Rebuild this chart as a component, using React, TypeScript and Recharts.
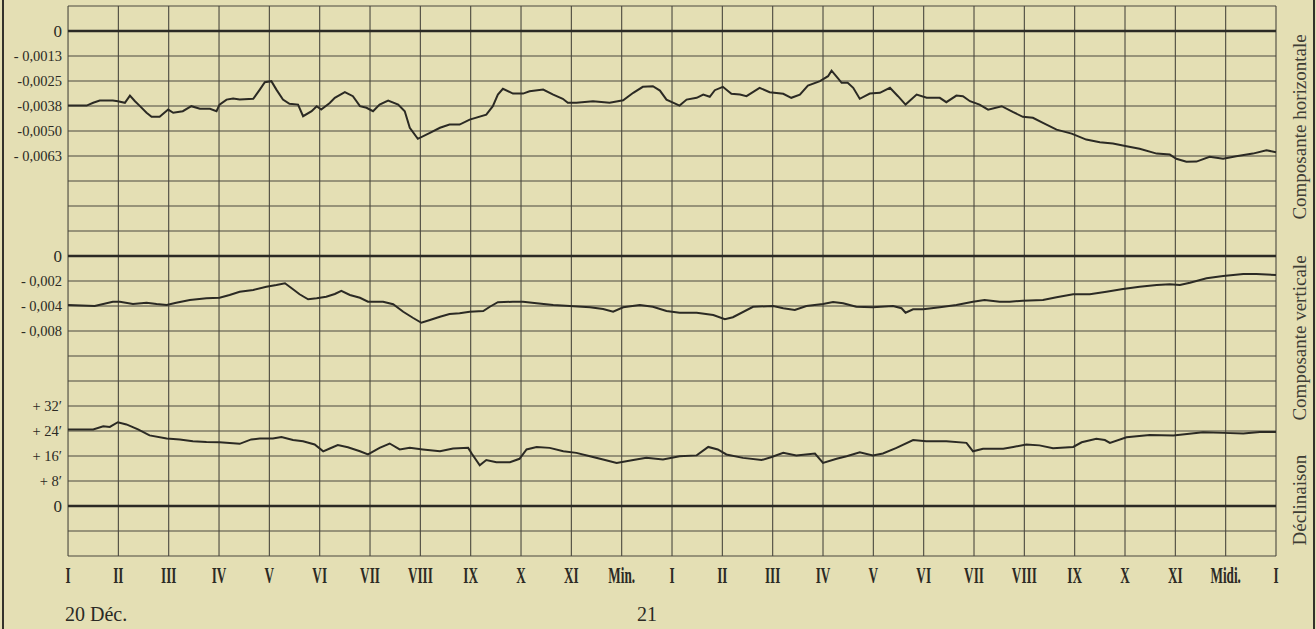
import React from 'react';
import { LineChart, Line, XAxis, YAxis, CartesianGrid, ReferenceLine } from 'recharts';

// ---- axis definitions ----
const HOURS = [0, 1, 2, 3, 4, 5, 6, 7, 8, 9, 10, 11, 12, 13, 14, 15, 16, 17, 18, 19, 20, 21, 22, 23, 24];
const HOUR_LABELS = ['I', 'II', 'III', 'IV', 'V', 'VI', 'VII', 'VIII', 'IX', 'X', 'XI', 'Min.', 'I', 'II', 'III', 'IV', 'V', 'VI', 'VII', 'VIII', 'IX', 'X', 'XI', 'Midi.', 'I'];

// horizontal component axis: one tick per row of the ruled paper (only six are labelled)
const H_TICKS = [
  0.00125, 0, -0.00125, -0.0025, -0.00375, -0.005, -0.00625, -0.0075, -0.00875, -0.01, -0.01125, -0.0125,
  -0.01375, -0.015, -0.01625, -0.0175, -0.01875, -0.02, -0.02125, -0.0225, -0.02375, -0.025, -0.02625,
];
const H_LABELLED = [0, -0.00125, -0.0025, -0.00375, -0.005, -0.00625];
const H_TICK_LABELS = ['0', '- 0,0013', '-0,0025', '-0,0038', '-0,0050', '- 0,0063'];
const H_DOMAIN = [-0.02625, 0.00125];

const V_TICKS = [0, -0.002, -0.004, -0.006];
const V_TICK_LABELS = ['0', '- 0,002', '- 0,004', '- 0,008'];
const V_DOMAIN = [-0.024, 0.02];

const D_TICKS = [32, 24, 16, 8, 0];
const D_TICK_LABELS = ['+ 32′', '+ 24′', '+ 16′', '+ 8′', '0'];
const D_DOMAIN = [-16, 160];

// ---- Composante horizontale ----
const H_HOURS = [
  0, 0.37, 0.5, 0.63, 0.89, 0.99, 1.13, 1.23, 1.33, 1.42,
  1.56, 1.66, 1.82, 1.99, 2.09, 2.28, 2.45, 2.62, 2.82, 2.95,
  3.01, 3.15, 3.28, 3.41, 3.68, 3.81, 3.91, 4.04, 4.14, 4.27,
  4.4, 4.57, 4.67, 4.84, 4.94, 5.03, 5.2, 5.3, 5.5, 5.66,
  5.8, 5.93, 6.06, 6.19, 6.36, 6.56, 6.69, 6.79, 6.95, 7.19,
  7.39, 7.58, 7.78, 7.98, 8.31, 8.44, 8.54, 8.64, 8.84, 9.04,
  9.17, 9.44, 9.64, 9.83, 9.93, 10.1, 10.43, 10.76, 11.03, 11.23,
  11.42, 11.62, 11.76, 11.89, 12.15, 12.29, 12.49, 12.62, 12.75, 12.85,
  13.01, 13.18, 13.35, 13.48, 13.74, 13.94, 14.21, 14.37, 14.54, 14.7,
  14.94, 15.1, 15.17, 15.29, 15.37, 15.49, 15.6, 15.73, 15.93, 16.13,
  16.33, 16.49, 16.64, 16.86, 17.06, 17.32, 17.45, 17.65, 17.78, 17.92,
  18.11, 18.28, 18.55, 18.78, 18.97, 19.17, 19.37, 19.64, 19.94, 20.23,
  20.5, 20.76, 21.03, 21.29, 21.63, 21.89, 22.02, 22.22, 22.42, 22.68,
  22.95, 23.21, 23.54, 23.81, 24,
];
const H_VALUES = [
  -0.00373, -0.00373, -0.00359, -0.00348, -0.00348, -0.00351, -0.00359, -0.00323, -0.00351, -0.00373,
  -0.00409, -0.00429, -0.00429, -0.00393, -0.00409, -0.00401, -0.00376, -0.00389, -0.00389, -0.00401,
  -0.00368, -0.00343, -0.00338, -0.00343, -0.00339, -0.00293, -0.00256, -0.00251, -0.00293, -0.00343,
  -0.00364, -0.00368, -0.00426, -0.00401, -0.00376, -0.00393, -0.0036, -0.00334, -0.00306, -0.00326,
  -0.00376, -0.00384, -0.00401, -0.00368, -0.00348, -0.00368, -0.00401, -0.00484, -0.00539, -0.00509,
  -0.00484, -0.00468, -0.00468, -0.00443, -0.00418, -0.00376, -0.00318, -0.00289, -0.00313, -0.00313,
  -0.00301, -0.00293, -0.00318, -0.00339, -0.00359, -0.00359, -0.00351, -0.00359, -0.00346, -0.00309,
  -0.00279, -0.00276, -0.00298, -0.00343, -0.00373, -0.00343, -0.00334, -0.00318, -0.00329, -0.00296,
  -0.00279, -0.00314, -0.00318, -0.00326, -0.00284, -0.00306, -0.00314, -0.00334, -0.00318, -0.00273,
  -0.00251, -0.00226, -0.00198, -0.00234, -0.00259, -0.00259, -0.00284, -0.00339, -0.00313, -0.00309,
  -0.00284, -0.00326, -0.00368, -0.00318, -0.00334, -0.00334, -0.00356, -0.00323, -0.00326, -0.00351,
  -0.00368, -0.00393, -0.00376, -0.00406, -0.00429, -0.00434, -0.00459, -0.00493, -0.00513, -0.00543,
  -0.00556, -0.00563, -0.00576, -0.00589, -0.00613, -0.00618, -0.00639, -0.00654, -0.00653, -0.00629,
  -0.00639, -0.00626, -0.00613, -0.00596, -0.00606,
];

// ---- Composante verticale ----
const V_HOURS = [
  0, 0.53, 0.89, 1.03, 1.29, 1.56, 1.76, 1.96, 2.15, 2.42,
  2.75, 3.01, 3.21, 3.41, 3.68, 3.94, 4.14, 4.31, 4.47, 4.6,
  4.77, 4.94, 5.13, 5.3, 5.43, 5.6, 5.8, 5.96, 6.26, 6.46,
  6.66, 6.85, 7.02, 7.19, 7.39, 7.58, 7.78, 7.98, 8.25, 8.38,
  8.54, 8.84, 9.04, 9.31, 9.64, 9.97, 10.37, 10.63, 10.83, 11.03,
  11.36, 11.62, 11.89, 12.15, 12.49, 12.82, 13.05, 13.21, 13.61, 14.01,
  14.21, 14.44, 14.67, 15.0, 15.2, 15.4, 15.66, 15.99, 16.39, 16.56,
  16.64, 16.79, 16.99, 17.32, 17.65, 17.98, 18.21, 18.51, 18.71, 18.97,
  19.37, 19.64, 19.97, 20.3, 20.63, 20.96, 21.29, 21.63, 21.89, 22.09,
  22.29, 22.62, 22.95, 23.35, 23.61, 24,
];
const V_VALUES = [
  -0.00392, -0.004, -0.00366, -0.00366, -0.00384, -0.00374, -0.00384, -0.00392, -0.00374, -0.00352,
  -0.00338, -0.00334, -0.00312, -0.00286, -0.00272, -0.00246, -0.00232, -0.00218, -0.00266, -0.00306,
  -0.00346, -0.00338, -0.00326, -0.00304, -0.00278, -0.00312, -0.00334, -0.00366, -0.00366, -0.00386,
  -0.00446, -0.00494, -0.00534, -0.00512, -0.00486, -0.00464, -0.00458, -0.00446, -0.0044, -0.00406,
  -0.0037, -0.00366, -0.00366, -0.00378, -0.00392, -0.004, -0.0041, -0.00424, -0.00446, -0.0041,
  -0.00392, -0.00406, -0.0044, -0.00454, -0.00454, -0.00472, -0.00506, -0.0049, -0.00406, -0.004,
  -0.00418, -0.00432, -0.004, -0.00384, -0.00368, -0.00378, -0.00406, -0.0041, -0.004, -0.00418,
  -0.00454, -0.00426, -0.00426, -0.0041, -0.00392, -0.00366, -0.00352, -0.00366, -0.00366, -0.00358,
  -0.00352, -0.0033, -0.00306, -0.00306, -0.00286, -0.00264, -0.00246, -0.00232, -0.00226, -0.00232,
  -0.00214, -0.00178, -0.0016, -0.00144, -0.00144, -0.00152,
];

// ---- Déclinaison (minutes of arc) ----
const D_HOURS = [
  0, 0.5, 0.7, 0.83, 0.99, 1.16, 1.39, 1.62, 1.96, 2.22,
  2.48, 2.75, 3.01, 3.41, 3.64, 3.81, 4.07, 4.24, 4.47, 4.67,
  4.9, 5.07, 5.2, 5.36, 5.56, 5.8, 5.96, 6.19, 6.39, 6.59,
  6.79, 7.05, 7.39, 7.65, 7.95, 8.02, 8.18, 8.31, 8.51, 8.78,
  8.97, 9.11, 9.31, 9.57, 9.84, 10.1, 10.37, 10.63, 10.9, 11.23,
  11.49, 11.82, 12.15, 12.49, 12.72, 12.91, 13.08, 13.41, 13.78, 13.98,
  14.21, 14.47, 14.84, 15.0, 15.27, 15.47, 15.73, 15.99, 16.19, 16.46,
  16.79, 17.05, 17.45, 17.85, 17.98, 18.18, 18.58, 18.78, 19.04, 19.3,
  19.57, 19.97, 20.14, 20.43, 20.6, 20.7, 21.03, 21.49, 21.96, 22.55,
  22.95, 23.35, 23.68, 24,
];
const D_VALUES = [
  24.5, 24.5, 25.5, 25.3, 26.8, 26.1, 24.5, 22.6, 21.6, 21.3,
  20.7, 20.5, 20.4, 19.9, 21.3, 21.6, 21.6, 22.1, 21.1, 20.7,
  19.7, 17.5, 18.4, 19.5, 18.8, 17.5, 16.5, 18.6, 20.0, 18.1,
  18.6, 18.1, 17.5, 18.4, 18.6, 16.8, 13.0, 14.7, 14.0, 14.0,
  15.1, 18.1, 18.9, 18.6, 17.5, 17.0, 15.9, 14.9, 13.8, 14.7,
  15.4, 14.9, 15.9, 16.2, 18.9, 18.1, 16.5, 15.4, 14.7, 15.7,
  17.0, 16.2, 16.8, 13.8, 15.1, 15.9, 17.2, 16.2, 16.8, 18.6,
  21.1, 20.7, 20.7, 20.2, 17.5, 18.3, 18.3, 18.9, 19.7, 19.4,
  18.5, 18.9, 20.4, 21.5, 21.1, 20.2, 22.0, 22.7, 22.6, 23.6,
  23.4, 23.2, 23.7, 23.7,
];

const zip = (xs: number[], ys: number[]) =>
  xs.slice(0, Math.min(xs.length, ys.length)).map((t, i) => ({ t, v: ys[i] }));

const H_DATA = zip(H_HOURS, H_VALUES);
const V_DATA = zip(V_HOURS, V_VALUES);
const D_DATA = zip(D_HOURS, D_VALUES);

const PAPER = '#e4dfb4';
const INK = '#2b2a24';
const GRID = '#4a483e';
const SERIF = '"Liberation Serif", "DejaVu Serif", serif';
const THIN = 0.01;

const makeYTick = (ticks: number[], labels: string[]) => (props: any) => {
  const { x, y, payload } = props;
  const i = ticks.findIndex((t) => Math.abs(t - payload.value) < 1e-9);
  if (i < 0) return <g />;
  const label = labels[i];
  const zero = label === '0';
  return (
    <text
      x={x}
      y={y}
      dy="0.36em"
      textAnchor="end"
      fontFamily={SERIF}
      fontSize={zero ? 17 : 14.5}
      fill={INK}
    >
      {label}
    </text>
  );
};

const HTick = makeYTick(H_LABELLED, H_TICK_LABELS);
const VTick = makeYTick(V_TICKS, V_TICK_LABELS);
const DTick = makeYTick(D_TICKS, D_TICK_LABELS);

const XTick = (props: any) => {
  const { x, y, payload } = props;
  const label = HOUR_LABELS[Math.round(payload.value)] ?? '';
  return (
    <text
      transform={`translate(${x},${y}) scale(0.55,1)`}
      x={0}
      y={19}
      textAnchor="middle"
      fontFamily={SERIF}
      fontWeight="bold"
      fontSize={24}
      fill={INK}
    >
      {label}
    </text>
  );
};

const sideLabel = (text: string, cx: number, cy: number) => (
  <div
    style={{
      position: 'absolute',
      left: cx,
      top: cy,
      transform: 'translate(-50%, -50%) rotate(-90deg)',
      whiteSpace: 'nowrap',
      fontFamily: SERIF,
      fontSize: 19,
      lineHeight: '20px',
      color: '#3e3d35',
    }}
  >
    {text}
  </div>
);

export default function App() {
  return (
    <div
      style={{
        position: 'absolute',
        left: 0,
        top: 0,
        width: 1316,
        height: 629,
        background: PAPER,
        overflow: 'hidden',
      }}
    >
      <LineChart width={1316} height={629} margin={{ top: 6, right: 40, bottom: 43, left: 68 }}>
        <XAxis
          dataKey="t"
          type="number"
          domain={[0, 24]}
          ticks={HOURS}
          interval={0}
          allowDecimals={false}
          axisLine={false}
          tickLine={false}
          height={30}
          tick={<XTick />}
        />
        {/* default y axis: Composante horizontale, also rules the paper rows */}
        <YAxis
          type="number"
          domain={H_DOMAIN}
          ticks={H_TICKS}
          interval={0}
          width={THIN}
          axisLine={false}
          tickLine={false}
          tickSize={4}
          tickMargin={2}
          tick={<HTick />}
        />
        <YAxis
          yAxisId="v"
          type="number"
          domain={V_DOMAIN}
          ticks={V_TICKS}
          interval={0}
          width={THIN}
          axisLine={false}
          tickLine={false}
          tickSize={4}
          tickMargin={2}
          tick={<VTick />}
        />
        <YAxis
          yAxisId="d"
          type="number"
          domain={D_DOMAIN}
          ticks={D_TICKS}
          interval={0}
          width={THIN}
          axisLine={false}
          tickLine={false}
          tickSize={4}
          tickMargin={2}
          tick={<DTick />}
        />
        <CartesianGrid stroke={GRID} strokeWidth={1.1} />
        <ReferenceLine y={0} stroke={INK} strokeWidth={2.4} />
        <ReferenceLine yAxisId="v" y={0} stroke={INK} strokeWidth={2.4} />
        <ReferenceLine yAxisId="d" y={0} stroke={INK} strokeWidth={2.4} />
        <Line
          data={H_DATA}
          dataKey="v"
          type="linear"
          stroke={INK}
          strokeWidth={2}
          dot={false}
          isAnimationActive={false}
        />
        <Line
          data={V_DATA}
          dataKey="v"
          yAxisId="v"
          type="linear"
          stroke={INK}
          strokeWidth={2}
          dot={false}
          isAnimationActive={false}
        />
        <Line
          data={D_DATA}
          dataKey="v"
          yAxisId="d"
          type="linear"
          stroke={INK}
          strokeWidth={2}
          dot={false}
          isAnimationActive={false}
        />
      </LineChart>

      <div style={{ position: 'absolute', left: 2, top: 0, width: 2, height: 629, background: '#33322b' }} />
      <div style={{ position: 'absolute', left: 1313, top: 0, width: 2, height: 629, background: '#33322b' }} />

      {sideLabel('Composante horizontale', 1300, 127)}
      {sideLabel('Composante verticale', 1300, 338)}
      {sideLabel('Déclinaison', 1300, 500)}

      <div
        style={{
          position: 'absolute',
          left: 65,
          top: 604,
          fontFamily: SERIF,
          fontSize: 20,
          lineHeight: '20px',
          color: INK,
          whiteSpace: 'nowrap',
        }}
      >
        20 Déc.
      </div>
      <div
        style={{
          position: 'absolute',
          left: 637,
          top: 604,
          fontFamily: SERIF,
          fontSize: 20,
          lineHeight: '20px',
          color: INK,
          whiteSpace: 'nowrap',
        }}
      >
        21
      </div>
    </div>
  );
}
